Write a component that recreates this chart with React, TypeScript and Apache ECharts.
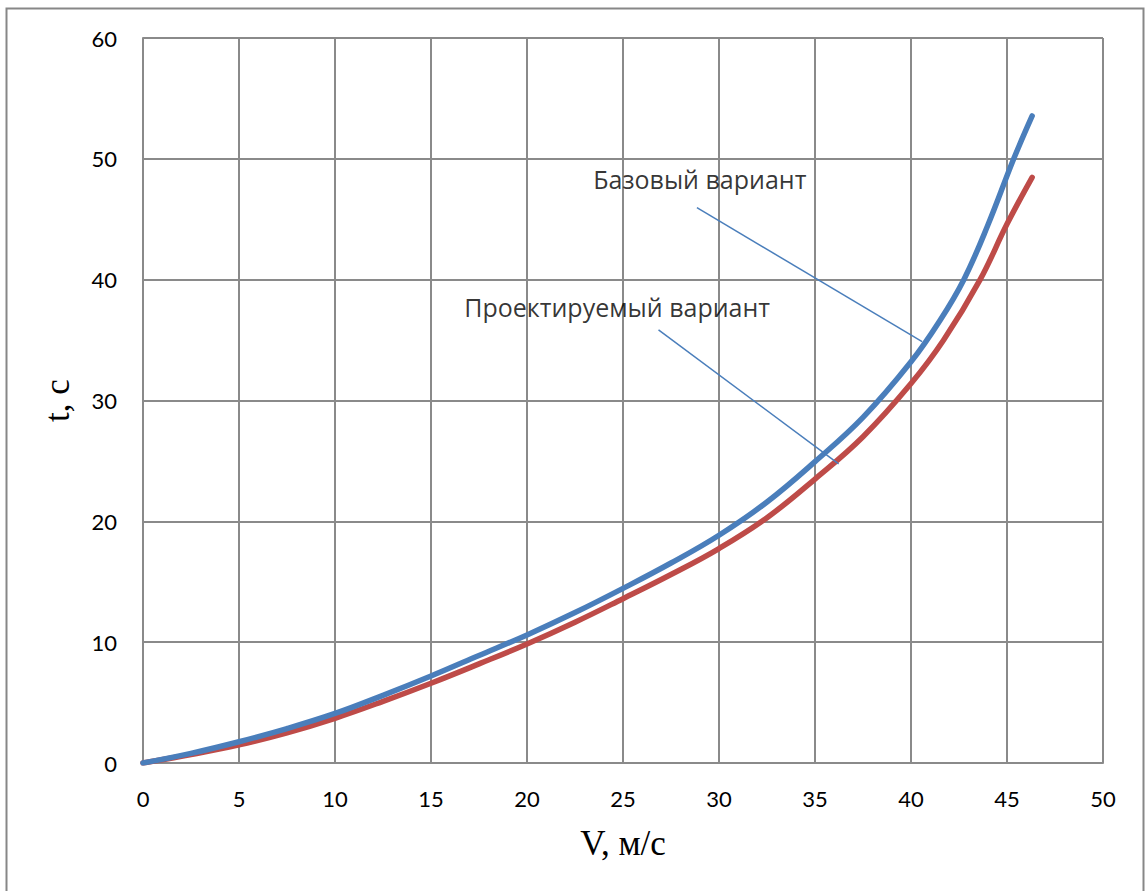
import React, { useEffect, useRef } from "react";
import * as echarts from "echarts";

const xTicks = [0, 5, 10, 15, 20, 25, 30, 35, 40, 45, 50];
const yTicks = [0, 10, 20, 30, 40, 50, 60];

const baseV = [0, 2.5, 5, 7.5, 10, 12.5, 15, 17.5, 20, 22.5, 25, 27.5, 30, 32.5, 35, 37.5, 40, 41.5, 42.75, 44, 45.35, 46.31];
const baseT = [0, 0.8, 1.76, 2.85, 4.1, 5.6, 7.2, 8.9, 10.6, 12.45, 14.45, 16.55, 18.85, 21.6, 24.94, 28.6, 33.2, 36.6, 40, 44.5, 50, 53.55];

const projV = [0, 2.5, 5, 7.5, 10, 12.5, 15, 17.5, 20, 22.5, 25, 27.5, 30, 32.5, 35, 37.5, 40, 41.7, 43.6, 45, 46.31];
const projT = [0, 0.7, 1.5, 2.5, 3.7, 5.1, 6.6, 8.2, 9.85, 11.65, 13.6, 15.6, 17.75, 20.3, 23.5, 27.0, 31.4, 35, 40, 44.6, 48.47];

const baseLabel = "Базовый вариант";
const projLabel = "Проектируемый вариант";
const baseLabelPos = [23.45, 48.33];
const projLabelPos = [16.73, 37.74];
const baseLeader = [[28.85, 45.96], [40.58, 34.87]];
const projLeader = [[26.85, 35.84], [36.23, 24.75]];

const xTitle = "V, м/с";
const yTitle = "t, c";

const BLUE = "#4a7ebb";
const RED = "#be4b48";
const GRID = "#8a8a8a";

export default function App() {
  const ref = useRef<HTMLDivElement>(null);
  useEffect(() => {
    if (!ref.current) return;
    const chart = echarts.init(ref.current, undefined, { renderer: "svg" });
    const zip = (a: number[], b: number[]) => a.map((v, i) => [v, b[i]]);
    chart.setOption({
      animation: false,
      backgroundColor: "#ffffff",
      grid: { left: 143, right: 44, top: 38, bottom: 128, containLabel: false },
      xAxis: {
        type: "value",
        min: xTicks[0],
        max: xTicks[xTicks.length - 1],
        interval: 5,
        name: xTitle,
        nameLocation: "middle",
        nameGap: 63,
        nameTextStyle: { fontFamily: "'Liberation Serif', serif", fontSize: 35, color: "#000" },
        axisLine: { show: true, lineStyle: { color: GRID, width: 2 } },
        axisTick: { show: false },
        axisLabel: { fontFamily: "Lato, 'Open Sans', sans-serif", fontSize: 22, color: "#000", margin: 24 },
        splitLine: { show: true, lineStyle: { color: GRID, width: 2 } },
      },
      yAxis: {
        type: "value",
        min: yTicks[0],
        max: yTicks[yTicks.length - 1],
        interval: 10,
        name: yTitle,
        nameLocation: "middle",
        nameGap: 68,
        nameRotate: 90,
        nameTextStyle: { fontFamily: "'Liberation Serif', serif", fontSize: 35, color: "#000" },
        axisLine: { show: true, lineStyle: { color: GRID, width: 2 } },
        axisTick: { show: false },
        axisLabel: { fontFamily: "Lato, 'Open Sans', sans-serif", fontSize: 22, color: "#000", margin: 26 },
        splitLine: { show: true, lineStyle: { color: GRID, width: 2 } },
      },
      graphic: [
        {
          type: "rect",
          shape: { x: 6.5, y: 8.5, width: 1137, height: 900 },
          style: { fill: "none", stroke: "#878787", lineWidth: 2 },
          silent: true,
          z: 0,
        },
      ],
      series: [
        {
          type: "line",
          data: zip(projV, projT),
          smooth: 0.4,
          showSymbol: false,
          lineStyle: { color: RED, width: 5.5, cap: "round" },
          z: 3,
        },
        {
          type: "line",
          data: zip(baseV, baseT),
          smooth: 0.4,
          showSymbol: false,
          lineStyle: { color: BLUE, width: 5.5, cap: "round" },
          z: 4,
        },
        {
          type: "line",
          data: baseLeader,
          showSymbol: false,
          lineStyle: { color: BLUE, width: 1.5 },
          z: 5,
        },
        {
          type: "line",
          data: projLeader,
          showSymbol: false,
          lineStyle: { color: BLUE, width: 1.5 },
          z: 5,
        },
        {
          type: "scatter",
          symbolSize: 0,
          data: [
            { value: baseLabelPos, name: baseLabel },
            { value: projLabelPos, name: projLabel },
          ],
          label: {
            show: true,
            position: "right",
            distance: 0,
            formatter: (p: any) => p.name,
            fontFamily: "'Open Sans', sans-serif",
            fontSize: 25,
            color: "#000",
            align: "left",
            verticalAlign: "middle",
          },
          z: 6,
        },
      ],
    });
    return () => chart.dispose();
  }, []);
  return (
    <div
      ref={ref}
      style={{ position: "absolute", left: 0, top: 0, width: 1147, height: 891 }}
    />
  );
}
